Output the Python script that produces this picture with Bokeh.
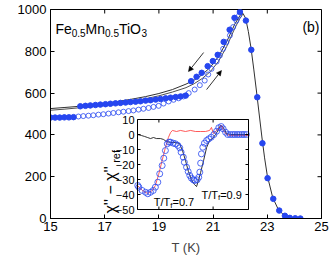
import math
from bokeh.plotting import figure
from bokeh.models import Range1d, FixedTicker, Label, Arrow, NormalHead
from bokeh.embed import file_html
from bokeh.resources import INLINE
from bokeh.core.properties import value

# ---------------- data ----------------
# filled circles, low-T part
low_T = [15.00, 15.17, 15.34, 15.51, 15.68, 15.85]
low_chi = [483, 483, 483, 484, 484, 485]
# filled circles, main part
fill_T = [16.10, 16.29, 16.47, 16.66, 16.84, 17.03, 17.21, 17.40, 17.58, 17.77, 17.95,
          18.14, 18.32, 18.51, 18.69, 18.88, 19.06, 19.25, 19.43, 19.62, 19.80, 19.99,
          20.19, 20.39, 20.58, 20.80, 20.99, 21.17, 21.39, 21.61, 21.79, 21.99, 22.21,
          22.41, 22.63, 22.82, 23.01, 23.22, 23.44, 23.65, 23.83, 24.03, 24.22]
fill_chi = [537, 539, 541, 543, 545, 547, 549, 551, 553, 555, 557,
            559, 561, 564, 566, 569, 572, 575, 578, 581, 584, 588,
            657, 678, 697, 729, 753, 783, 845, 903, 960, 988, 947,
            807, 580, 360, 193, 94, 38, 13, 3, 1, 0]
# open circles
open_T = [16.03, 16.21, 16.40, 16.58, 16.77, 16.95, 17.14, 17.32, 17.51, 17.69, 17.88,
          18.06, 18.25, 18.43, 18.62, 18.80, 18.99, 19.17, 19.36, 19.54, 19.73, 19.91,
          20.10, 20.32, 20.51, 20.69, 20.82, 20.94, 21.13, 21.25, 21.37, 21.49, 21.62,
          21.74, 21.86, 21.96]
open_chi = [488, 490, 492, 494, 497, 499, 502, 505, 508, 511, 514,
            517, 521, 525, 529, 534, 539, 550, 560, 568, 575, 584,
            600, 617, 638, 660, 689, 716, 751, 780, 812, 843, 876,
            916, 947, 971]
# grey/black reference curves
lineA_T = [15.0, 15.5, 16.0, 16.5, 17.0, 17.5, 18.0, 18.5, 19.0, 19.5, 20.0, 20.3, 20.6,
           20.9, 21.2, 21.5, 21.8, 22.0, 22.1, 22.2, 22.3, 22.4, 22.5, 22.6, 22.7, 22.8,
           22.9, 23.0, 23.2, 23.4, 23.6, 23.8, 24.0, 24.2]
lineA_chi = [526, 531, 536, 542, 550, 560, 571, 583, 598, 617, 643, 662, 688,
             724, 775, 845, 930, 973, 982, 958, 895, 815, 715, 610, 500, 390,
             290, 205, 100, 45, 17, 5, 1, 0]
lineB_T = [15.0, 15.5, 16.0, 16.5, 17.0, 17.5, 18.0, 18.5, 19.0, 19.5, 20.0, 20.3, 20.6,
           20.9, 21.2, 21.5, 21.8, 22.0, 22.1]
lineB_chi = [518, 523, 529, 535, 542, 551, 561, 573, 587, 605, 626, 645, 670,
             703, 752, 822, 910, 960, 978]

# inset data
in_circ_T = [18.22, 18.26, 18.38, 18.51, 18.59, 18.69, 18.79, 18.87, 18.96, 19.03, 19.12,
             19.18, 19.24, 19.31, 19.37, 19.43, 19.53, 19.61, 19.70, 19.77, 19.82, 19.90,
             19.94, 20.02, 20.08, 20.14, 20.20, 20.27, 20.32, 20.41, 20.47, 20.51, 20.54,
             20.57, 20.62, 20.68, 20.76, 20.84, 20.93, 21.03, 21.13, 21.21, 21.30, 21.37,
             21.46, 21.54, 21.63, 21.72, 21.80, 21.89, 21.97, 22.06, 22.14, 22.23]
in_circ_d = [-34.0, -35.1, -37.3, -38.5, -39.5, -38.5, -37.3, -35.1, -31.8, -26.2, -20.7,
             -15.8, -10.7, -6.2, -5.1, -5.1, -5.8, -6.2, -7.3, -8.9, -11.8, -15.1,
             -18.5, -21.8, -24.7, -27.3, -29.1, -30.2, -30.7, -30.2, -28.5, -25.1, -19.1,
             -12.9, -8.5, -5.8, -4.0, -2.9, -1.8, 0.0, 2.2, 4.5, 5.3, 3.8,
             1.5, 0.0, 0.0, 0.0, 0.0, 0.0, 0.0, 0.0, 0.0, 0.0]
in_red_T = [18.21, 18.39, 18.58, 18.76, 18.87, 18.99, 19.12, 19.24, 19.35, 19.43, 19.50,
            19.65, 19.80, 19.98, 20.17, 20.35, 20.54, 20.72, 20.87, 20.94, 21.01, 21.13,
            21.24, 21.31, 21.38, 21.49, 21.64, 22.31]
in_red_d = [-34.0, -37.3, -39.3, -37.3, -34.0, -26.7, -17.3, -8.7, -2.0, 1.3, 2.7,
            2.0, 2.7, 2.0, 2.7, 2.0, 2.0, 2.0, 2.7, 4.7, 0.7, 2.7,
            4.7, 6.0, 2.7, 0.0, -0.7, -0.7]
in_blk_T = [18.21, 18.36, 18.47, 18.58, 18.69, 18.80, 18.91, 19.06, 19.17, 19.28, 19.43,
            19.61, 19.76, 19.87, 19.98, 20.09, 20.20, 20.31, 20.39, 20.46, 20.54, 20.65,
            20.76, 20.87, 20.98, 21.09, 21.20, 21.27, 21.35, 21.42, 21.49, 21.64, 22.31]
in_blk_d = [0.0, -0.7, -1.3, -2.0, -2.7, -2.0, -2.7, -2.7, -3.3, -4.7, -5.3,
            -5.3, -6.0, -10.7, -17.3, -24.7, -30.0, -33.3, -34.7, -30.7, -25.3, -17.3,
            -8.7, -4.0, -2.7, 0.0, 3.3, 6.0, 5.3, 3.3, 0.7, 0.0, 0.0]

x_ticks = [15, 17, 19, 21, 23, 25]
y_ticks = [0, 200, 400, 600, 800, 1000]
in_y_ticks = [-50, -40, -30, -20, -10, 0, 10]
in_y_labels = ["\u221250", "\u221240", "\u221230", "\u221220", "\u221210", "0", "10"]
in_x_ticks = [19, 21]

# ---------------- layout / style ----------------
FONT = "Liberation Sans"
BLUE = "#2646f0"
W, H = 330, 258
BL, BT = 50, 9
FW, FH = 271, 209
BR, BB = W - BL - FW, H - BT - FH
X0, X1, Y0, Y1 = 15, 25, 0, 1000

# inset frame, in pixels relative to main frame
IN_L, IN_R, IN_T, IN_B = 87, 198, 110, 200
in_x0 = X0 + IN_L / FW * (X1 - X0)
in_x1 = X0 + IN_R / FW * (X1 - X0)
u_per_px = 60.0 / (IN_B - IN_T)
in_start = -50 - (FH - IN_B) * u_per_px
in_end = 10 + IN_T * u_per_px

p = figure(width=W, height=H, output_backend="svg", toolbar_location=None,
           x_range=Range1d(X0, X1), y_range=Range1d(Y0, Y1),
           min_border_left=BL, min_border_right=BR, min_border_top=BT, min_border_bottom=BB)
p.extra_y_ranges = {"inset": Range1d(in_start, in_end)}
p.grid.visible = False
p.background_fill_color = "white"
p.border_fill_color = "white"
p.outline_line_color = "black"
p.outline_line_width = 1

for ax in (p.xaxis[0], p.yaxis[0]):
    ax.major_tick_in = 4
    ax.major_tick_out = 0
    ax.minor_tick_line_color = None
    ax.axis_line_color = "black"
    ax.major_tick_line_color = "black"
    ax.major_label_text_font = FONT
    ax.major_label_text_color = "black"
    ax.major_label_text_font_size = "13px"
p.xaxis.ticker = FixedTicker(ticks=x_ticks)
p.yaxis.ticker = FixedTicker(ticks=y_ticks)
p.xaxis.major_label_standoff = 3
p.yaxis.major_label_standoff = 4
p.xaxis.axis_label = "T (K)"
p.xaxis.axis_label_text_font = FONT
p.xaxis.axis_label_text_font_size = "13px"
p.xaxis.axis_label_text_font_style = "normal"
p.xaxis.axis_label_standoff = 6

# ticks on the right and top edges of the box (inward)
tdx = 4 / FW * (X1 - X0)
tdy = 4 / FH * (Y1 - Y0)
p.segment(x0=[X1 - tdx] * len(y_ticks), y0=y_ticks, x1=[X1] * len(y_ticks), y1=y_ticks,
          line_color="black", line_width=1)
p.segment(x0=x_ticks, y0=[Y1 - tdy] * len(x_ticks), x1=x_ticks, y1=[Y1] * len(x_ticks),
          line_color="black", line_width=1)

# main curves
p.line(lineB_T, lineB_chi, line_color="#505050", line_width=1)
p.line(lineA_T, lineA_chi, line_color="#303030", line_width=1)
p.scatter(open_T, open_chi, marker="circle", size=5, fill_color=None,
          line_color=BLUE, line_width=0.8)
p.scatter(low_T, low_chi, marker="circle", size=5.5, fill_color=BLUE, line_color=BLUE)
p.scatter(fill_T, fill_chi, marker="circle", size=5.5, fill_color=BLUE, line_color=BLUE)

# arrows
head = dict(size=5, fill_color="black", line_color="black", line_width=0.5)
p.add_layout(Arrow(end=NormalHead(**head), x_start=20.65, y_start=794, x_end=20.09, y_end=703,
                   line_width=0.8, line_color="black"))
p.add_layout(Arrow(end=NormalHead(**head), x_start=20.76, y_start=617, x_end=21.31, y_end=708,
                   line_width=0.8, line_color="black"))

# inset
p.quad(left=[in_x0], right=[in_x1], bottom=[-50], top=[10], y_range_name="inset",
       fill_color="white", line_color=None)
p.line(in_blk_T, in_blk_d, y_range_name="inset", line_color="black", line_width=0.8)
p.line(in_red_T, in_red_d, y_range_name="inset", line_color="#ff3030", line_width=0.8)
p.scatter(in_circ_T, in_circ_d, y_range_name="inset", marker="circle", size=6,
          fill_color=None, line_color=BLUE, line_width=0.8)
p.quad(left=[in_x0], right=[in_x1], bottom=[-50], top=[10], y_range_name="inset",
       fill_color=None, line_color="black", line_width=1)

dx = 3 / FW * (X1 - X0)
dy = 3 * u_per_px
p.segment(x0=[in_x0] * len(in_y_ticks), y0=in_y_ticks, x1=[in_x0 + dx] * len(in_y_ticks),
          y1=in_y_ticks, y_range_name="inset", line_color="black", line_width=1)
p.segment(x0=[in_x1 - dx] * len(in_y_ticks), y0=in_y_ticks, x1=[in_x1] * len(in_y_ticks),
          y1=in_y_ticks, y_range_name="inset", line_color="black", line_width=1)
p.segment(x0=in_x_ticks, y0=[-50] * len(in_x_ticks), x1=in_x_ticks,
          y1=[-50 + dy] * len(in_x_ticks), y_range_name="inset", line_color="black", line_width=1)
p.segment(x0=in_x_ticks, y0=[10] * len(in_x_ticks), x1=in_x_ticks,
          y1=[10 - dy] * len(in_x_ticks), y_range_name="inset", line_color="black", line_width=1)
p.text(x=[in_x0] * len(in_y_ticks), y=in_y_ticks, text=in_y_labels, y_range_name="inset",
       x_offset=-3, text_align="right", text_baseline="middle", text_font=value(FONT),
       text_font_size="11px", text_color="black")

# ---------------- texts ----------------
ARIAL = {"F": .611, "e": .556, "M": .833, "n": .556, "T": .611, "i": .222, "O": .778,
         ".": .278, "/": .278, "=": .584, "f": .278, "r": .333, " ": .278, "'": .191,
         "\u2212": .584, "\u03c7": .57}


def tw(s, size):
    return sum(ARIAL.get(c, .556) for c in s) * size


def rich(x, y, parts, yr="default"):
    off = 0.0
    for txt, size, sub in parts:
        p.add_layout(Label(x=x, y=y, x_offset=off, y_offset=-sub, text=txt, text_font=FONT,
                           text_font_size=f"{size}px", text_baseline="alphabetic",
                           text_align="left", text_color="black", y_range_name=yr))
        off += tw(txt, size)


rich(15.18, 909, [("Fe", 14, 0), ("0.5", 10, 4), ("Mn", 14, 0), ("0.5", 10, 4),
                  ("TiO", 14, 0), ("3", 10, 4)])
p.add_layout(Label(x=25, y=914, x_offset=-2, text="(b)", text_font=FONT, text_font_size="14px",
                   text_align="right", text_baseline="alphabetic", text_color="black"))
p.add_layout(Label(x=15, y=526, x_offset=-36, text="\u03c7'' (arb. units)", angle=math.pi / 2,
                   text_font=FONT, text_font_size="13px", text_align="center",
                   text_baseline="middle", text_color="black"))
rich(18.81, -45.1, [("T/T", 11, 0), ("f", 8, 3), ("=0.7", 11, 0)], yr="inset")
rich(20.57, -40.0, [("T/T", 11, 0), ("f", 8, 3), ("=0.9", 11, 0)], yr="inset")

# inset y label (rotated, with subscript)
ylab_main = "\u03c7'' \u2212 \u03c7''"
main_len = tw(ylab_main, 16)
p.text(x=[in_x0], y=[-52.7], text=[ylab_main], y_range_name="inset", angle=math.pi / 2,
       x_offset=-27, text_align="left", text_baseline="alphabetic",
       text_font=value(FONT), text_font_size="16px", text_color="black")
p.text(x=[in_x0], y=[-52.7], text=["ref"], y_range_name="inset", angle=math.pi / 2,
       x_offset=-22, y_offset=-(main_len + 2), text_align="left", text_baseline="alphabetic",
       text_font=value(FONT), text_font_size="11px", text_color="black")

open("out.html", "w").write(file_html(p, INLINE))
